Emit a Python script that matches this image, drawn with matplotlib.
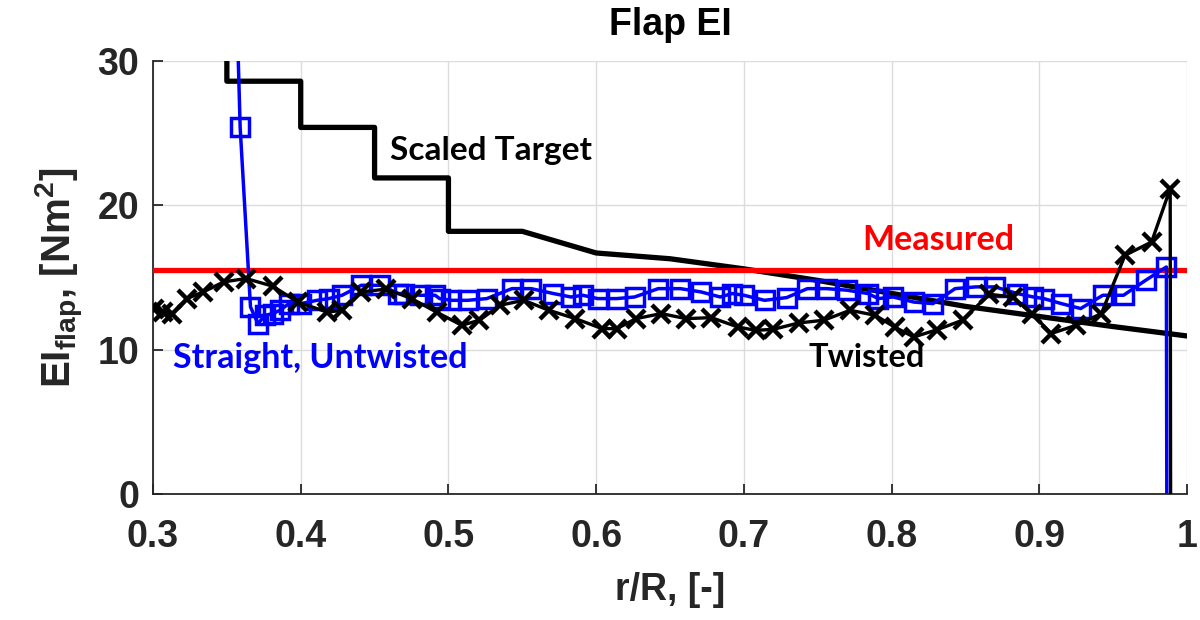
import numpy as np
import matplotlib
matplotlib.use('Agg')
import matplotlib.pyplot as plt

# scaled target (step-wise inboard, then linear)
target_r = [0.30, 0.35, 0.35, 0.40, 0.40, 0.45, 0.45, 0.50, 0.50, 0.55, 0.60, 0.65,
            0.70, 0.75, 0.80, 0.85, 0.90, 0.95, 1.00]
target_ei = [36.0, 36.0, 28.6, 28.6, 25.4, 25.4, 21.9, 21.9, 18.2, 18.2, 16.7, 16.3,
             15.6, 14.8, 13.9, 13.0, 12.3, 11.6, 10.95]

measured_ei = 15.5

# straight, untwisted blade
straight_r = [0.355, 0.359, 0.366, 0.371, 0.376, 0.381, 0.386, 0.392, 0.400, 0.411,
              0.419, 0.428, 0.441, 0.454, 0.466, 0.470, 0.481, 0.491, 0.494, 0.502,
              0.513, 0.526, 0.543, 0.556, 0.571, 0.583, 0.591, 0.601, 0.614, 0.626,
              0.642, 0.657, 0.671, 0.684, 0.692, 0.700, 0.714, 0.729, 0.743, 0.756,
              0.770, 0.784, 0.791, 0.801, 0.815, 0.828, 0.843, 0.857, 0.870, 0.885,
              0.896, 0.903, 0.915, 0.928, 0.943, 0.957, 0.972, 0.986, 0.9865]
straight_ei = [40.0, 25.4, 12.96, 11.81, 12.38, 12.5, 12.73, 13.19, 13.19, 13.42,
               13.54, 13.77, 14.46, 14.46, 13.89, 13.89, 13.77, 13.77, 13.54, 13.42,
               13.42, 13.54, 14.23, 14.23, 13.89, 13.65, 13.77, 13.54, 13.54, 13.65,
               14.23, 14.23, 14.0, 13.65, 13.89, 13.77, 13.42, 13.61, 14.23, 14.23,
               14.12, 13.89, 13.54, 13.65, 13.3, 13.19, 14.23, 14.35, 14.35, 13.89,
               13.65, 13.54, 13.19, 12.85, 13.77, 13.77, 14.81, 15.73, -10.0]

# twisted blade
twisted_r = [0.301, 0.307, 0.313, 0.323, 0.334, 0.348, 0.363, 0.381, 0.398, 0.418,
             0.428, 0.441, 0.458, 0.475, 0.492, 0.509, 0.521, 0.535, 0.551, 0.568,
             0.586, 0.604, 0.614, 0.627, 0.644, 0.661, 0.678, 0.696, 0.708, 0.720,
             0.737, 0.754, 0.772, 0.789, 0.802, 0.815, 0.831, 0.848, 0.866, 0.882,
             0.895, 0.908, 0.925, 0.942, 0.958, 0.976, 0.9886, 0.989]
twisted_ei = [12.85, 12.6, 12.45, 13.54, 14.0, 14.7, 14.93, 14.4, 13.3, 12.6,
              12.73, 14.0, 14.2, 13.54, 12.6, 11.69, 12.04, 13.08, 13.42, 12.73,
              12.15, 11.46, 11.46, 12.15, 12.5, 12.15, 12.22, 11.57, 11.34, 11.41,
              11.85, 12.04, 12.73, 12.38, 11.57, 10.88, 11.39, 12.04, 13.84, 13.65,
              12.5, 11.12, 11.69, 12.5, 16.54, 17.46, 21.16, -10.0]

xticks = [0.3, 0.4, 0.5, 0.6, 0.7, 0.8, 0.9, 1.0]
xticklabels = ['0.3', '0.4', '0.5', '0.6', '0.7', '0.8', '0.9', '1']
yticks = [0, 10, 20, 30]

plt.rcParams['font.family'] = ['Liberation Sans', 'DejaVu Sans']
plt.rcParams['mathtext.fontset'] = 'custom'
plt.rcParams['mathtext.rm'] = 'Liberation Sans:bold'
plt.rcParams['mathtext.it'] = 'Liberation Sans:bold'
plt.rcParams['mathtext.bf'] = 'Liberation Sans:bold'

fig = plt.figure(figsize=(12, 6.2), dpi=100)
ax = fig.add_axes([0.1275, 0.2032, 0.8617, 0.6984])

ax.plot(target_r, target_ei, color='black', lw=3.8, zorder=3)
ax.axhline(measured_ei, color='red', lw=3.8, zorder=4)
ax.plot(straight_r[1:-1], straight_ei[1:-1], ls='none', marker='s', ms=12.5, mfc='none',
        mec='blue', mew=2.5, zorder=5)
ax.plot(straight_r, straight_ei, color='blue', lw=2.5, zorder=5)
ax.plot(twisted_r, twisted_ei, color='black', lw=2.4, marker='x', ms=13, mew=3.2,
        markevery=list(range(len(twisted_r) - 1)), zorder=6)

ax.text(0.4605, 23.8, 'Scaled Target', fontsize=24, fontweight='bold', family='Lato',
        ha='left', va='center', color='black')
ax.text(0.8315, 17.6, 'Measured', fontsize=24.5, fontweight='bold', family='Lato',
        ha='center', va='center', color='red')
ax.text(0.3135, 9.4, 'Straight, Untwisted', fontsize=24.5, fontweight='bold', family='Lato',
        ha='left', va='center', color='blue')
ax.text(0.7435, 9.45, 'Twisted', fontsize=23.5, fontweight='bold', family='Lato',
        ha='left', va='center', color='black')

ax.set_xlim(0.3, 1.0)
ax.set_ylim(0, 30)
ax.set_xticks(xticks)
ax.set_xticklabels(xticklabels)
ax.set_yticks(yticks)
ax.grid(True, color='#dcdcdc', lw=1)
ax.set_axisbelow(True)
for s in ['top', 'right']:
    ax.spines[s].set_visible(False)
for s in ['left', 'bottom']:
    ax.spines[s].set_color('#262626')
    ax.spines[s].set_linewidth(1.3)
ax.tick_params(direction='in', length=7, width=1.3, colors='#262626', labelsize=27)
ax.tick_params(axis='x', pad=18)
ax.tick_params(axis='y', pad=10)
for lab in ax.get_xticklabels() + ax.get_yticklabels():
    lab.set_fontweight('bold')

ax.set_title('Flap EI', fontsize=27, fontweight='bold', pad=19)
ax.set_xlabel('r/R, [-]', fontsize=27, fontweight='bold', color='#262626', labelpad=12)
ax.set_ylabel(r'EI$_{\mathrm{flap}}$, [Nm$^{\mathrm{2}}$]', fontsize=29, fontweight='bold',
              color='#262626', labelpad=8)

fig.savefig('out.png', dpi=100)
